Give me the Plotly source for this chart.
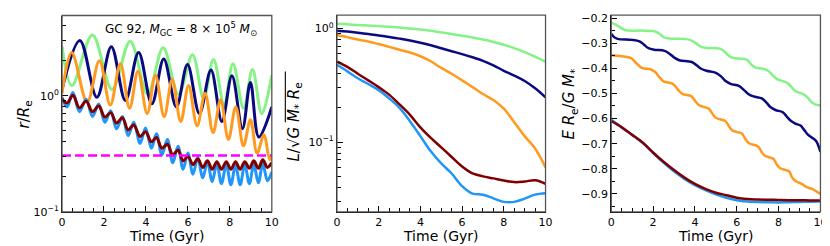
import plotly.graph_objects as go

W, H = 830, 246

# ---------------- Panel 1: r / R_e (orbital extrema, log scale) ----------------
t_green_r = [0.0, 0.47, 1.45, 2.38, 3.25, 4.08, 4.82, 5.55, 6.22, 6.75, 7.22, 7.72, 8.15, 8.65, 9.08, 9.52, 10.0]
r_green = [2.67, 1.22, 3.33, 1.13, 2.94, 1.03, 2.59, 1.03, 2.25, 0.95, 2.05, 0.85, 1.88, 0.78, 1.68, 0.70, 1.50]

t_navy_r = [0.0, 0.85, 1.66, 2.35, 3.02, 3.65, 4.28, 4.85, 5.45, 5.98, 6.55, 7.1, 7.62, 8.1, 8.6, 8.98, 9.38, 10.0]
r_navy = [1.13, 2.99, 0.97, 2.64, 0.91, 2.35, 0.85, 2.07, 0.80, 1.85, 0.70, 1.66, 0.60, 1.48, 0.52, 1.30, 0.44, 0.80]

t_orange_r = [0.0, 0.46, 1.2, 1.78, 2.3, 2.78, 3.22, 3.62, 4.06, 4.45, 4.87, 5.25, 5.66, 6.03, 6.44, 6.82,
              7.2, 7.56, 7.93, 8.28, 8.65, 8.98, 9.3, 9.62, 9.9, 10.0]
r_orange = [1.05, 2.35, 0.88, 2.0, 0.83, 1.88, 0.78, 1.62, 0.70, 1.50, 0.66, 1.38, 0.60, 1.22, 0.55, 1.05,
            0.48, 0.92, 0.42, 0.80, 0.37, 0.62, 0.32, 0.46, 0.28, 0.31]

t_small_r = [0.0, 0.24, 0.52, 0.83, 1.15, 1.45, 1.75, 2.04, 2.32, 2.6, 2.88, 3.15, 3.42, 3.72, 3.98, 4.26,
             4.5, 4.76, 5.02, 5.28, 5.53, 5.77, 6.0, 6.24, 6.47, 6.71, 6.93, 7.16, 7.38, 7.6, 7.83, 8.05,
             8.27, 8.49, 8.71, 8.93, 9.14, 9.36, 9.57, 9.79, 10.0]
r_blue = [0.968, 0.80, 1.065, 0.728, 0.932, 0.662, 0.847, 0.59, 0.742, 0.517, 0.662, 0.452, 0.59, 0.388,
          0.527, 0.353, 0.47, 0.309, 0.419, 0.265, 0.367, 0.232, 0.321, 0.211, 0.292, 0.196, 0.27, 0.182,
          0.26, 0.175, 0.255, 0.171, 0.251, 0.171, 0.255, 0.175, 0.255, 0.178, 0.26, 0.185, 0.22]
r_maroon = [0.932, 0.864, 1.006, 0.785, 0.897, 0.728, 0.816, 0.653, 0.714, 0.58, 0.644, 0.507, 0.56, 0.445,
            0.488, 0.40, 0.436, 0.353, 0.381, 0.309, 0.34, 0.275, 0.30, 0.255, 0.286, 0.241, 0.275, 0.232,
            0.27, 0.232, 0.27, 0.232, 0.27, 0.232, 0.27, 0.237, 0.275, 0.237, 0.281, 0.241, 0.265]

r_threshold = 0.305

# ---------------- Panel 2: L / sqrt(G M* Re) ----------------
t_L = [0.0, 0.5, 1.0, 1.5, 2.0, 2.5, 3.0, 3.5, 4.0, 4.5, 5.0, 5.5, 6.0, 6.5, 7.0, 7.5, 8.0, 8.5, 9.0, 9.5, 10.0]
L_green = [1.10, 1.09, 1.075, 1.063, 1.05, 1.035, 1.02, 1.0, 0.98, 0.955, 0.925, 0.895, 0.865, 0.833, 0.80,
           0.762, 0.72, 0.672, 0.62, 0.565, 0.51]
L_navy = [0.955, 0.94, 0.92, 0.897, 0.87, 0.843, 0.815, 0.785, 0.75, 0.712, 0.67, 0.632, 0.595, 0.558, 0.52,
          0.474, 0.425, 0.385, 0.345, 0.298, 0.248]
L_orange = [0.878, 0.84, 0.80, 0.77, 0.73, 0.69, 0.65, 0.615, 0.57, 0.515, 0.45, 0.40, 0.35, 0.305, 0.265,
            0.235, 0.197, 0.15, 0.113, 0.088, 0.06]
L_maroon = [0.512, 0.46, 0.40, 0.35, 0.305, 0.262, 0.215, 0.174, 0.135, 0.109, 0.09, 0.074, 0.061, 0.053,
            0.05, 0.048, 0.046, 0.0445, 0.045, 0.0462, 0.043]
L_blue = [0.48, 0.42, 0.365, 0.325, 0.287, 0.243, 0.20, 0.153, 0.113, 0.083, 0.065, 0.053, 0.041, 0.0352,
          0.0345, 0.032, 0.0298, 0.0298, 0.0318, 0.0345, 0.0355]

# ---------------- Panel 3: E Re / G M* ----------------
t_E_green = [0.0, 0.25, 0.47, 0.7, 1.4, 2.0, 2.22, 2.38, 2.55, 2.8, 3.6, 3.85, 4.08, 4.3, 4.55, 5.2, 5.4, 5.55,
             5.72, 5.95, 6.45, 6.6, 6.75, 6.92, 7.2, 7.5, 7.72, 7.92, 8.2, 8.45, 8.65, 8.85, 9.1, 9.35, 9.52,
             9.72, 10.0]
E_green = [-0.218, -0.228, -0.240, -0.249, -0.250, -0.252, -0.258, -0.268, -0.278, -0.282, -0.284, -0.290,
           -0.302, -0.315, -0.319, -0.322, -0.332, -0.345, -0.356, -0.360, -0.365, -0.376, -0.390, -0.398,
           -0.401, -0.410, -0.428, -0.443, -0.451, -0.460, -0.478, -0.493, -0.500, -0.513, -0.530, -0.543,
           -0.548]

t_E_navy = [0.0, 0.12, 0.3, 1.0, 1.35, 1.55, 1.78, 2.05, 2.55, 2.8, 3.02, 3.25, 3.85, 4.08, 4.3, 4.55, 5.0,
            5.25, 5.45, 5.7, 6.1, 6.35, 6.55, 6.8, 7.2, 7.42, 7.62, 7.85, 8.2, 8.4, 8.6, 8.8, 9.05, 9.22, 9.4,
            9.6, 9.8, 10.0]
E_navy = [-0.262, -0.275, -0.283, -0.287, -0.293, -0.305, -0.320, -0.326, -0.331, -0.343, -0.358, -0.368,
          -0.375, -0.388, -0.402, -0.410, -0.418, -0.432, -0.450, -0.462, -0.470, -0.487, -0.502, -0.512,
          -0.520, -0.537, -0.555, -0.566, -0.575, -0.593, -0.610, -0.620, -0.628, -0.645, -0.664, -0.676,
          -0.690, -0.733]

t_E_orange = [0.0, 0.5, 0.95, 1.2, 1.45, 1.9, 2.1, 2.3, 2.5, 2.9, 3.05, 3.22, 3.4, 3.8, 3.92, 4.06, 4.22,
              4.65, 4.75, 4.87, 5.02, 5.45, 5.55, 5.66, 5.8, 6.25, 6.33, 6.44, 6.58, 7.0, 7.1, 7.2, 7.35, 7.75,
              7.83, 7.93, 8.07, 8.5, 8.57, 8.65, 8.8, 9.1, 9.32, 9.6, 9.8, 10.0]
E_orange = [-0.348, -0.352, -0.360, -0.380, -0.398, -0.405, -0.415, -0.435, -0.452, -0.460, -0.470, -0.488,
            -0.502, -0.510, -0.520, -0.535, -0.548, -0.560, -0.570, -0.585, -0.598, -0.610, -0.620, -0.635,
            -0.648, -0.660, -0.670, -0.685, -0.698, -0.710, -0.720, -0.735, -0.748, -0.760, -0.770, -0.785,
            -0.798, -0.810, -0.820, -0.835, -0.848, -0.860, -0.872, -0.880, -0.890, -0.900]

t_E_small = [0.0, 0.5, 1.0, 1.5, 2.0, 2.5, 3.0, 3.5, 4.0, 4.5, 5.0, 5.5, 6.0, 6.5, 7.0, 7.5, 8.0, 8.5, 9.0,
             9.5, 10.0]
E_maroon = [-0.61, -0.635, -0.665, -0.695, -0.735, -0.772, -0.805, -0.835, -0.860, -0.880, -0.895, -0.905,
            -0.915, -0.920, -0.922, -0.923, -0.924, -0.925, -0.925, -0.926, -0.926]
E_blue = [-0.605, -0.635, -0.665, -0.697, -0.737, -0.775, -0.810, -0.840, -0.865, -0.885, -0.902, -0.915,
          -0.925, -0.930, -0.932, -0.933, -0.934, -0.933, -0.932, -0.931, -0.930]

x_ticks = [0, 2, 4, 6, 8, 10]
x_tick_text = ["0", "2", "4", "6", "8", "10"]

C_GREEN = "#84f284"
C_NAVY = "#0a0a80"
C_ORANGE = "#ff9a1e"
C_BLUE = "#2196f8"
C_MAROON = "#800000"
C_MAGENTA = "#ff00ff"

FONT = "DejaVu Sans"

fig = go.Figure()


def add(x, y, color, xa, ya, width=3.0, spline=True, dash=None):
    line = dict(color=color, width=width)
    if spline:
        line["shape"] = "spline"
        line["smoothing"] = 1.0
    if dash:
        line["dash"] = dash
    fig.add_trace(go.Scatter(x=x, y=y, mode="lines", line=line, xaxis=xa, yaxis=ya,
                             showlegend=False, hoverinfo="skip"))


# panel 1
add(t_green_r, r_green, C_GREEN, "x", "y")
add(t_navy_r, r_navy, C_NAVY, "x", "y")
add(t_orange_r, r_orange, C_ORANGE, "x", "y")
add(t_small_r, r_blue, C_BLUE, "x", "y")
add(t_small_r, r_maroon, C_MAROON, "x", "y")
add([0, 10], [r_threshold, r_threshold], C_MAGENTA, "x", "y", width=2.5, spline=False, dash="9px,4px")

# panel 2
add(t_L, L_green, C_GREEN, "x2", "y2", width=2.5)
add(t_L, L_navy, C_NAVY, "x2", "y2", width=2.5)
add(t_L, L_orange, C_ORANGE, "x2", "y2", width=2.5)
add(t_L, L_blue, C_BLUE, "x2", "y2", width=2.5)
add(t_L, L_maroon, C_MAROON, "x2", "y2", width=2.5)

# panel 3
add(t_E_green, E_green, C_GREEN, "x3", "y3", width=2.5)
add(t_E_navy, E_navy, C_NAVY, "x3", "y3", width=2.5)
add(t_E_orange, E_orange, C_ORANGE, "x3", "y3", width=2.5)
add(t_E_small, E_blue, C_BLUE, "x3", "y3", width=2.5)
add(t_E_small, E_maroon, C_MAROON, "x3", "y3", width=2.5)

panels = [  # (x0, x1, ytop, ybottom) in pixels
    (50.7, 263.3, 4.7, 209.3),
    (329.3, 540.7, 4.3, 209.3),
    (607.3, 819.3, 4.3, 209.3),
]

tickfont = dict(family=FONT, size=11, color="black")

xcommon = dict(range=[0, 10], tickmode="array", tickvals=x_ticks, ticktext=x_tick_text,
               ticks="inside", ticklen=6, tickwidth=1, tickcolor="black", showgrid=False, zeroline=False,
               showline=True, linecolor="black", linewidth=1, tickfont=tickfont,
               minor=dict(tickmode="array", tickvals=[i * 0.5 for i in range(21)], ticks="inside",
                          ticklen=4, tickcolor="black", showgrid=False))

layout = dict(width=W, height=H, margin=dict(l=0, r=0, t=0, b=0), paper_bgcolor="white",
              plot_bgcolor="white", font=dict(family=FONT, color="black"))

for i, (x0, x1, yt, yb) in enumerate(panels):
    sfx = "" if i == 0 else str(i + 1)
    layout["xaxis" + sfx] = dict(xcommon, domain=[x0 / W, x1 / W], anchor="y" + sfx)

log_minor1 = [k * 0.1 for k in range(2, 10)] + [k * 1.0 for k in range(2, 5)]
log_minor2 = [k * 0.01 for k in range(2, 10)] + [k * 0.1 for k in range(2, 10)]

ycommon = dict(ticks="inside", ticklen=6, tickwidth=1, tickcolor="black", showgrid=False, zeroline=False,
               showline=True, linecolor="black", linewidth=1, tickfont=tickfont)

layout["yaxis"] = dict(ycommon, type="log", range=[-1, 0.69], tickmode="array", tickvals=[0.1, 1],
                       ticktext=["10<sup>\u22121</sup>", "10<sup>0</sup>"],
                       domain=[1 - panels[0][3] / H, 1 - panels[0][2] / H], anchor="x",
                       minor=dict(tickmode="array", tickvals=log_minor1, ticks="inside", ticklen=4,
                                  tickcolor="black", showgrid=False))
layout["yaxis2"] = dict(ycommon, type="log", range=[-1.613, 0.118], tickmode="array", tickvals=[0.1, 1],
                        ticktext=["10<sup>\u22121</sup>", "10<sup>0</sup>"],
                        domain=[1 - panels[1][3] / H, 1 - panels[1][2] / H], anchor="x2",
                        minor=dict(tickmode="array", tickvals=log_minor2, ticks="inside", ticklen=4,
                                   tickcolor="black", showgrid=False))
y3_ticks = [-0.2, -0.3, -0.4, -0.5, -0.6, -0.7, -0.8, -0.9]
layout["yaxis3"] = dict(ycommon, range=[-0.971, -0.1885], tickmode="array", tickvals=y3_ticks,
                        ticktext=["\u2212%.1f" % abs(v) for v in y3_ticks],
                        domain=[1 - panels[2][3] / H, 1 - panels[2][2] / H], anchor="x3",
                        minor=dict(tickmode="array", tickvals=[-0.25, -0.35, -0.45, -0.55, -0.65, -0.75, -0.85, -0.95],
                                   ticks="inside", ticklen=4, tickcolor="black", showgrid=False))

fig.update_layout(**layout)

# frame (top/right in grey)
for i, (x0, x1, yt, yb) in enumerate(panels):
    fig.add_shape(type="rect", xref="paper", yref="paper", x0=x0 / W, x1=x1 / W,
                  y0=1 - yb / H, y1=1 - yt / H, line=dict(color="#555555", width=1.3), layer="above")

# vinculum of the square root in panel 2's y title
fig.add_shape(type="line", xref="paper", yref="paper", x0=277 / W, x1=277 / W,
              y0=1 - 116 / H, y1=1 - 63 / H, line=dict(color="black", width=1.1))

ann = []
title_font = dict(family=FONT, size=14, color="black")
ytitle_font = dict(family=FONT, size=15, color="black")
for (x0, x1, yt, yb) in panels:
    ann.append(dict(text="Time (Gyr)", x=(x0 + x1) / 2 / W, y=1 - 235 / H, xref="paper", yref="paper",
                    showarrow=False, font=title_font, xanchor="center", yanchor="middle"))

ann.append(dict(text="<i>r</i>/<i>R</i><sub>e</sub>", x=13 / W, y=1 - 108 / H, xref="paper", yref="paper",
                showarrow=False, font=ytitle_font, textangle=-90, xanchor="center", yanchor="middle"))
ann.append(dict(text="<i>L</i>/\u221a<i>G M</i><sub>*</sub> <i>R</i><sub>e</sub>",
                x=286 / W, y=1 - 116 / H, xref="paper", yref="paper",
                showarrow=False, font=ytitle_font, textangle=-90, xanchor="center", yanchor="middle"))
ann.append(dict(text="<i>E R</i><sub>e</sub>/<i>G M</i><sub>*</sub>", x=565 / W, y=1 - 97 / H, xref="paper",
                yref="paper", showarrow=False, font=ytitle_font, textangle=-90, xanchor="center",
                yanchor="middle"))
ann.append(dict(text="GC 92, <i>M</i><sub>GC</sub> = 8 \u00d7 10<sup>5</sup> <i>M</i><sub>\u2299</sub>",
                x=171.5 / W, y=1 - 18.5 / H, xref="paper", yref="paper", showarrow=False,
                font=dict(family=FONT, size=12, color="black"), xanchor="center", yanchor="middle"))

fig.update_layout(annotations=ann)
fig.write_html("out.html")
